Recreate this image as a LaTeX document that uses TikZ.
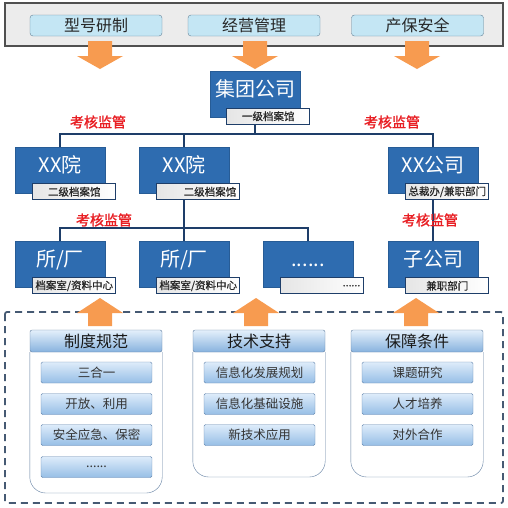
\documentclass[tikz,border=0pt]{standalone}
\usepackage{fontspec}
\newfontfamily\cjk{Noto Sans CJK SC}
\newfontfamily\cjkbold[FakeBold=1.6]{Noto Sans CJK SC}
\newfontfamily\cjksemi[FakeBold=0.7]{Noto Sans CJK SC}
\usetikzlibrary{positioning,calc}
\definecolor{orgblue}{RGB}{46,108,176}
\definecolor{linenavy}{RGB}{30,62,105}
\definecolor{topfill}{RGB}{196,230,244}
\definecolor{topline}{RGB}{100,130,150}
\definecolor{checkred}{RGB}{232,30,35}
\definecolor{arroworange}{RGB}{247,155,80}
\definecolor{headtop}{RGB}{228,240,251}
\definecolor{headbot}{RGB}{135,178,222}
\definecolor{panelline}{RGB}{95,125,160}
\definecolor{itemtop}{RGB}{222,236,250}
\definecolor{itembot}{RGB}{150,190,230}
\definecolor{itemline}{RGB}{100,135,175}
\definecolor{dashgray}{RGB}{70,90,115}
\definecolor{bannerfill}{RGB}{236,236,236}
\definecolor{bannerline}{RGB}{80,80,80}
\newcommand\downblk[1]{%
\fill[bigarrow] (#1) ++(-12,0) -- ++(0,15) -- ++(-11,0) -- ++(23,13) -- ++(23,-13) -- ++(-11,0) -- ++(0,-15) -- cycle;
}
\newcommand\upblk[1]{%
\fill[bigarrow] (#1) -- ++(23,15) -- ++(-11,0) -- ++(0,13) -- ++(-24,0) -- ++(0,-13) -- ++(-11,0) -- cycle;
}

\begin{document}
\begin{tikzpicture}[x=1pt,y=-1pt,
    every node/.style={font=\cjk},
    topbox/.style={draw=topline, fill=topfill, rounded corners=3pt, minimum width=132pt, minimum height=21pt, inner sep=0pt, font=\cjk\fontsize{16}{16}\selectfont, text=black!85},
    mainbox/.style={fill=orgblue, draw=orgblue!85!black, minimum width=90pt, minimum height=46pt, inner sep=0pt, text=white, font=\cjk\fontsize{20}{20}\selectfont, text height=14pt, text depth=10pt},
    subbox/.style={draw=linenavy, line width=0.9pt, left color=gray!20, right color=white, minimum width=83pt, minimum height=16pt, inner sep=2pt, font=\cjksemi\fontsize{10.5}{10.5}\selectfont, text=black!85, anchor=south east},
    kaohe/.style={text=checkred, font=\cjkbold\fontsize{14}{14}\selectfont},
    tree/.style={draw=linenavy, line width=1.4pt},
    panelhead/.style={draw=panelline, top color=headtop, bottom color=headbot, minimum width=132pt, minimum height=22pt, inner sep=0pt, rounded corners=2pt, font=\cjk\fontsize{16}{16}\selectfont, text=black!90},
    itembox/.style={draw=itemline, top color=itemtop, bottom color=itembot, minimum width=111pt, minimum height=21pt, inner sep=0pt, rounded corners=1.5pt, font=\cjk\fontsize{12.5}{12.5}\selectfont, text=black!80},
    bigarrow/.style={fill=arroworange},
    dashbox/.style={draw=dashgray, line width=1.8pt, dash pattern=on 7pt off 5pt, rounded corners=2pt}]
	%% page frame
	\useasboundingbox (0,0) rectangle (508,507);

	% top banner
	\filldraw[fill=bannerfill, draw=bannerline, line width=1.5pt] (5,3) rectangle (503,46);
	\node[topbox] (xinghao) at (96,25.5) {型号研制};
	\node[topbox] (jingying) at (254,25.5) {经营管理};
	\node[topbox] (chanbao) at (417.5,25.5) {产保安全};

	\downblk{100,41}
	\downblk{255,41}
	\downblk{417,41}

	% organisation boxes
	\node[mainbox] (jituan) at (255,94.5) {集团公司};
	\node[mainbox] (yuanA) at (60,170) {XX院};
	\node[mainbox] (yuanB) at (184,170) {XX院};
	\node[mainbox] (gongsi) at (433,170) {XX公司};
	\node[mainbox] (suoA) at (60,264) {所/厂};
	\node[mainbox] (suoB) at (184,264) {所/厂};
	\node[mainbox] (suoC) at (308,264) {......};
	\node[mainbox] (zigongsi) at (433,264) {子公司};

	% tree lines
	\coordinate (busA) at (255,134);
	\coordinate (busB) at (184,228);
	\draw[tree] (jituan.south) -- (busA);
	\draw[tree] (yuanA.north) |- (busA) -| (gongsi.north);
	\draw[tree] (yuanB.north) |- (busA);
	\draw[tree] (yuanB.south) -- (suoB.north);
	\draw[tree] (suoA.north) |- (busB) -| (suoC.north);
	\draw[tree] (gongsi.south) -- (zigongsi.north);

	% archive labels
	\node[subbox] (jituanSub) at ([xshift=10pt,yshift=-7pt]jituan.south east) {一级档案馆};
	\node[subbox] (yuanASub) at ([xshift=11pt,yshift=-7pt]yuanA.south east) {二级档案馆};
	\node[subbox, text width=76pt, align=right] (yuanBSub) at ([xshift=11pt,yshift=-7pt]yuanB.south east) {二级档案馆};
	\node[subbox] (gongsiSub) at ([xshift=11pt,yshift=-7pt]gongsi.south east) {总裁办/兼职部门};
	\node[subbox] (suoASub) at ([xshift=11pt,yshift=-7pt]suoA.south east) {档案室/资料中心};
	\node[subbox] (suoBSub) at ([xshift=11pt,yshift=-7pt]suoB.south east) {档案室/资料中心};
	\node[subbox, text width=76pt, align=right] (suoCSub) at ([xshift=11pt,yshift=-7pt]suoC.south east) {......};
	\node[subbox] (zigongsiSub) at ([xshift=11pt,yshift=-7pt]zigongsi.south east) {兼职部门};

	\node[kaohe] (khA) at (98,122) {考核监管};
	\node[kaohe] (khB) at (392,122) {考核监管};
	\node[kaohe] (khC) at (104,220) {考核监管};
	\node[kaohe] (khD) at (430,220) {考核监管};

	% support base
	\draw[dashbox] (5,312) rectangle (503,503);
	\upblk{100,298}
	\upblk{256,298}
	\upblk{416,298}

	\node[panelhead] (zhidu) at (96,341) {制度规范};
	\node[panelhead] (jishu) at (259,341) {技术支持};
	\node[panelhead] (baozhang) at (417,341) {保障条件};
	\draw[panelline, rounded corners=16pt] (zhidu.south west) -- (zhidu.south west |- 0,493) -- (zhidu.south east |- 0,493) -- (zhidu.south east);
	\draw[panelline, rounded corners=16pt] (jishu.south west) -- (jishu.south west |- 0,477) -- (jishu.south east |- 0,477) -- (jishu.south east);
	\draw[panelline, rounded corners=16pt] (baozhang.south west) -- (baozhang.south west |- 0,477) -- (baozhang.south east |- 0,477) -- (baozhang.south east);

	\node[itembox] (sanhe) at (96.5,372.5) {三合一};
	\node[itembox] (kaifang) at (96.5,404) {开放、利用};
	\node[itembox] (anquan) at (96.5,435) {安全应急、保密};
	\node[itembox] (zhiduDots) at (96.5,467) {......};

	\node[itembox] (guihua) at (259.5,372.5) {信息化发展规划};
	\node[itembox] (sheshi) at (259.5,404) {信息化基础设施};
	\node[itembox] (xinjishu) at (259.5,435) {新技术应用};

	\node[itembox] (keti) at (417.5,372.5) {课题研究};
	\node[itembox] (rencai) at (417.5,404) {人才培养};
	\node[itembox] (hezuo) at (417.5,435) {对外合作};
\end{tikzpicture}
\end{document}
